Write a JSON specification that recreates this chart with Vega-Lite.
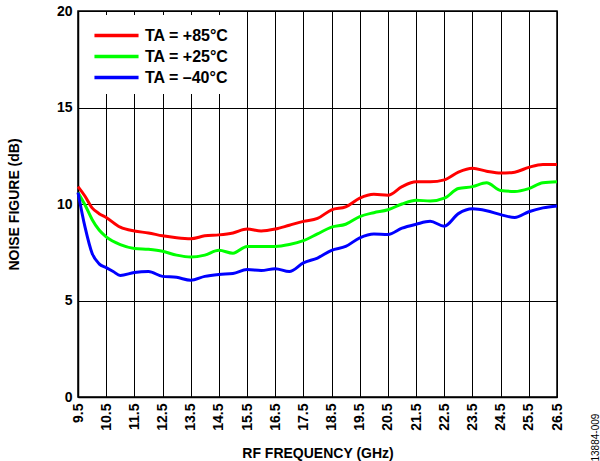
{
  "$schema": "https://vega.github.io/schema/vega-lite/v6.json",
  "autosize": "none",
  "width": 479,
  "height": 386,
  "padding": {"left": 78, "top": 11, "right": 43, "bottom": 64},
  "background": "white",
  "config": {
    "font": "Liberation Sans",
    "view": {"stroke": "black", "strokeWidth": 1.5},
    "axis": {
      "labelFont": "Liberation Sans", "labelFontWeight": "bold", "labelFontSize": 14, "labelColor": "black",
      "titleFont": "Liberation Sans", "titleFontWeight": "bold", "titleFontSize": 14, "titleColor": "black",
      "domainColor": "black", "domainWidth": 1.5, "gridColor": "black", "gridOpacity": 1, "gridWidth": 1, "ticks": false
    }
  },
  "data": {
    "values": [
      {"f": 9.5, "nf": 10.9, "t": "TA = +85°C"}, {"f": 9.75, "nf": 10.4, "t": "TA = +85°C"}, {"f": 10.0, "nf": 9.8, "t": "TA = +85°C"}, {"f": 10.25, "nf": 9.5, "t": "TA = +85°C"}, {"f": 10.5, "nf": 9.3, "t": "TA = +85°C"},
      {"f": 11.0, "nf": 8.8, "t": "TA = +85°C"}, {"f": 11.5, "nf": 8.6, "t": "TA = +85°C"}, {"f": 12.0, "nf": 8.5, "t": "TA = +85°C"}, {"f": 12.5, "nf": 8.35, "t": "TA = +85°C"},
      {"f": 13.0, "nf": 8.25, "t": "TA = +85°C"}, {"f": 13.5, "nf": 8.2, "t": "TA = +85°C"}, {"f": 14.0, "nf": 8.35, "t": "TA = +85°C"}, {"f": 14.5, "nf": 8.4, "t": "TA = +85°C"},
      {"f": 15.0, "nf": 8.5, "t": "TA = +85°C"}, {"f": 15.5, "nf": 8.7, "t": "TA = +85°C"}, {"f": 16.0, "nf": 8.6, "t": "TA = +85°C"}, {"f": 16.5, "nf": 8.7, "t": "TA = +85°C"},
      {"f": 17.0, "nf": 8.9, "t": "TA = +85°C"}, {"f": 17.5, "nf": 9.1, "t": "TA = +85°C"}, {"f": 18.0, "nf": 9.25, "t": "TA = +85°C"}, {"f": 18.5, "nf": 9.7, "t": "TA = +85°C"},
      {"f": 19.0, "nf": 9.85, "t": "TA = +85°C"}, {"f": 19.5, "nf": 10.3, "t": "TA = +85°C"}, {"f": 20.0, "nf": 10.5, "t": "TA = +85°C"}, {"f": 20.5, "nf": 10.45, "t": "TA = +85°C"},
      {"f": 21.0, "nf": 10.9, "t": "TA = +85°C"}, {"f": 21.5, "nf": 11.15, "t": "TA = +85°C"}, {"f": 22.0, "nf": 11.15, "t": "TA = +85°C"}, {"f": 22.5, "nf": 11.25, "t": "TA = +85°C"},
      {"f": 23.0, "nf": 11.65, "t": "TA = +85°C"}, {"f": 23.5, "nf": 11.85, "t": "TA = +85°C"}, {"f": 24.0, "nf": 11.7, "t": "TA = +85°C"}, {"f": 24.5, "nf": 11.6, "t": "TA = +85°C"},
      {"f": 25.0, "nf": 11.65, "t": "TA = +85°C"}, {"f": 25.5, "nf": 11.9, "t": "TA = +85°C"}, {"f": 26.0, "nf": 12.05, "t": "TA = +85°C"}, {"f": 26.5, "nf": 12.05, "t": "TA = +85°C"},

      {"f": 9.5, "nf": 10.6, "t": "TA = +25°C"}, {"f": 9.75, "nf": 9.95, "t": "TA = +25°C"}, {"f": 10.0, "nf": 9.2, "t": "TA = +25°C"}, {"f": 10.25, "nf": 8.65, "t": "TA = +25°C"}, {"f": 10.5, "nf": 8.3, "t": "TA = +25°C"},
      {"f": 11.0, "nf": 7.9, "t": "TA = +25°C"}, {"f": 11.5, "nf": 7.7, "t": "TA = +25°C"}, {"f": 12.0, "nf": 7.65, "t": "TA = +25°C"}, {"f": 12.5, "nf": 7.55, "t": "TA = +25°C"},
      {"f": 13.0, "nf": 7.35, "t": "TA = +25°C"}, {"f": 13.5, "nf": 7.25, "t": "TA = +25°C"}, {"f": 14.0, "nf": 7.35, "t": "TA = +25°C"}, {"f": 14.5, "nf": 7.6, "t": "TA = +25°C"},
      {"f": 15.0, "nf": 7.45, "t": "TA = +25°C"}, {"f": 15.5, "nf": 7.8, "t": "TA = +25°C"}, {"f": 16.0, "nf": 7.8, "t": "TA = +25°C"}, {"f": 16.5, "nf": 7.8, "t": "TA = +25°C"},
      {"f": 17.0, "nf": 7.9, "t": "TA = +25°C"}, {"f": 17.5, "nf": 8.1, "t": "TA = +25°C"}, {"f": 18.0, "nf": 8.45, "t": "TA = +25°C"}, {"f": 18.5, "nf": 8.8, "t": "TA = +25°C"},
      {"f": 19.0, "nf": 8.95, "t": "TA = +25°C"}, {"f": 19.5, "nf": 9.35, "t": "TA = +25°C"}, {"f": 20.0, "nf": 9.55, "t": "TA = +25°C"}, {"f": 20.5, "nf": 9.7, "t": "TA = +25°C"},
      {"f": 21.0, "nf": 10.0, "t": "TA = +25°C"}, {"f": 21.5, "nf": 10.2, "t": "TA = +25°C"}, {"f": 22.0, "nf": 10.15, "t": "TA = +25°C"}, {"f": 22.5, "nf": 10.3, "t": "TA = +25°C"},
      {"f": 23.0, "nf": 10.8, "t": "TA = +25°C"}, {"f": 23.5, "nf": 10.9, "t": "TA = +25°C"}, {"f": 24.0, "nf": 11.1, "t": "TA = +25°C"}, {"f": 24.5, "nf": 10.7, "t": "TA = +25°C"},
      {"f": 25.0, "nf": 10.65, "t": "TA = +25°C"}, {"f": 25.5, "nf": 10.8, "t": "TA = +25°C"}, {"f": 26.0, "nf": 11.1, "t": "TA = +25°C"}, {"f": 26.5, "nf": 11.15, "t": "TA = +25°C"},

      {"f": 9.5, "nf": 10.6, "t": "TA = –40°C"}, {"f": 9.75, "nf": 8.8, "t": "TA = –40°C"}, {"f": 10.0, "nf": 7.45, "t": "TA = –40°C"}, {"f": 10.25, "nf": 6.9, "t": "TA = –40°C"}, {"f": 10.5, "nf": 6.7, "t": "TA = –40°C"},
      {"f": 10.75, "nf": 6.5, "t": "TA = –40°C"}, {"f": 11.0, "nf": 6.3, "t": "TA = –40°C"}, {"f": 11.5, "nf": 6.45, "t": "TA = –40°C"}, {"f": 12.0, "nf": 6.5, "t": "TA = –40°C"}, {"f": 12.5, "nf": 6.25, "t": "TA = –40°C"},
      {"f": 13.0, "nf": 6.2, "t": "TA = –40°C"}, {"f": 13.5, "nf": 6.05, "t": "TA = –40°C"}, {"f": 14.0, "nf": 6.25, "t": "TA = –40°C"}, {"f": 14.5, "nf": 6.35, "t": "TA = –40°C"},
      {"f": 15.0, "nf": 6.4, "t": "TA = –40°C"}, {"f": 15.5, "nf": 6.6, "t": "TA = –40°C"}, {"f": 16.0, "nf": 6.55, "t": "TA = –40°C"}, {"f": 16.5, "nf": 6.65, "t": "TA = –40°C"},
      {"f": 17.0, "nf": 6.5, "t": "TA = –40°C"}, {"f": 17.5, "nf": 6.95, "t": "TA = –40°C"}, {"f": 18.0, "nf": 7.2, "t": "TA = –40°C"}, {"f": 18.5, "nf": 7.6, "t": "TA = –40°C"},
      {"f": 19.0, "nf": 7.8, "t": "TA = –40°C"}, {"f": 19.5, "nf": 8.25, "t": "TA = –40°C"}, {"f": 20.0, "nf": 8.45, "t": "TA = –40°C"}, {"f": 20.5, "nf": 8.42, "t": "TA = –40°C"},
      {"f": 21.0, "nf": 8.75, "t": "TA = –40°C"}, {"f": 21.5, "nf": 8.95, "t": "TA = –40°C"}, {"f": 22.0, "nf": 9.1, "t": "TA = –40°C"}, {"f": 22.5, "nf": 8.85, "t": "TA = –40°C"},
      {"f": 23.0, "nf": 9.5, "t": "TA = –40°C"}, {"f": 23.5, "nf": 9.75, "t": "TA = –40°C"}, {"f": 24.0, "nf": 9.65, "t": "TA = –40°C"}, {"f": 24.5, "nf": 9.45, "t": "TA = –40°C"},
      {"f": 25.0, "nf": 9.3, "t": "TA = –40°C"}, {"f": 25.5, "nf": 9.6, "t": "TA = –40°C"}, {"f": 26.0, "nf": 9.8, "t": "TA = –40°C"}, {"f": 26.5, "nf": 9.9, "t": "TA = –40°C"}
    ]
  },
  "encoding": {
    "x": {
      "field": "f", "type": "quantitative",
      "scale": {"domain": [9.5, 26.5], "nice": false, "zero": false},
      "axis": {
        "title": "RF FREQUENCY (GHz)", "values": [9.5, 10.5, 11.5, 12.5, 13.5, 14.5, 15.5, 16.5, 17.5, 18.5, 19.5, 20.5, 21.5, 22.5, 23.5, 24.5, 25.5, 26.5],
        "format": ".1f", "labelAngle": 270, "labelAlign": "right", "labelBaseline": "middle", "labelPadding": 6, "titlePadding": 16, "labelFlush": false
      }
    }
  },
  "layer": [
    {
      "mark": {"type": "line", "interpolate": "monotone", "strokeWidth": 3},
      "encoding": {
        "y": {
          "field": "nf", "type": "quantitative",
          "scale": {"domain": [0, 20], "nice": false},
          "axis": {"title": "NOISE FIGURE (dB)", "values": [0, 5, 10, 15, 20], "labelPadding": 6, "titlePadding": 35, "labelFlush": false}
        },
        "color": {
          "field": "t", "type": "nominal", "sort": ["TA = +85°C", "TA = +25°C", "TA = –40°C"],
          "scale": {"domain": ["TA = +85°C", "TA = +25°C", "TA = –40°C"], "range": ["#ff0000", "#00ff00", "#0000ff"]},
          "legend": {
            "title": null, "orient": "none", "legendX": 18, "legendY": 4, "fillColor": "white", "padding": 8,
            "symbolType": "M-2.1,0L2.1,0", "symbolSize": 441, "symbolStrokeWidth": 3.5,
            "labelFont": "Liberation Sans", "labelFontWeight": "bold", "labelFontSize": 16, "labelColor": "black",
            "rowPadding": -2, "labelOffset": 16
          }
        }
      }
    },
    {
      "mark": {"type": "line", "opacity": 0},
      "encoding": {
        "detail": {"field": "t", "type": "nominal"},
        "y": {
          "field": "nf", "type": "quantitative",
          "scale": {"domain": [0, 20], "nice": false},
          "axis": {
            "orient": "right", "title": "13884-009", "labels": false, "domain": false, "grid": false, "ticks": false,
            "titleFontWeight": "normal", "titleFontSize": 10, "titleAngle": 270, "titleAlign": "left", "titleBaseline": "middle",
            "titleX": 38, "titleY": 450
          }
        }
      }
    }
  ],
  "resolve": {"axis": {"y": "independent"}}
}
